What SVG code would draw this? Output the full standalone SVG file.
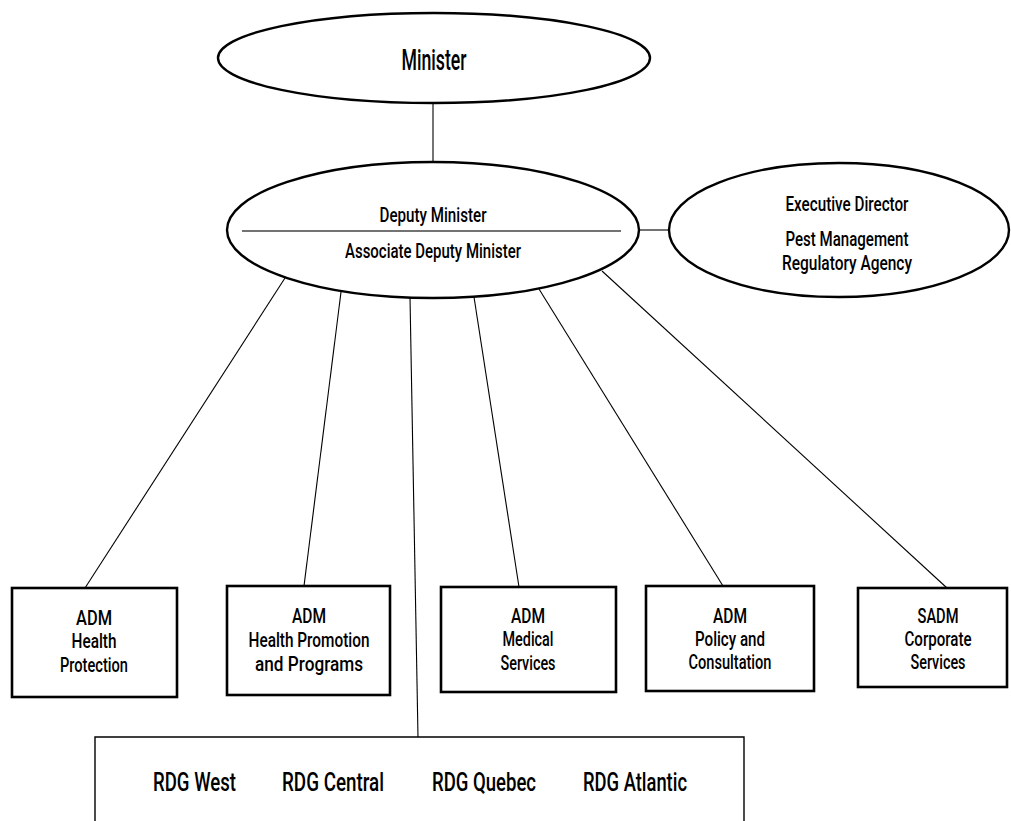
<svg xmlns="http://www.w3.org/2000/svg" width="1011" height="821" viewBox="0 0 1011 821">
<style>
.e{fill:#fff;stroke:#000;stroke-width:2.4}
.b{fill:#fff;stroke:#000;stroke-width:2.6}
.c{stroke:#000;stroke-width:1.1;fill:none}
text{font-family:Roboto,"DejaVu Sans Condensed","Liberation Sans",sans-serif;font-weight:500;fill:#000;text-anchor:middle}
.t{font-size:21px}
.s{font-size:20px}
.r{font-size:26px}
</style>
<rect width="1011" height="821" fill="#fff"/>
<g id="connectors">
<line class="c" x1="433" y1="103" x2="433" y2="162"/>
<line class="c" x1="640" y1="230" x2="668" y2="230"/>
<line class="c" x1="285" y1="278" x2="85" y2="588"/>
<line class="c" x1="341" y1="292" x2="304" y2="586"/>
<line class="c" x1="410" y1="297" x2="418" y2="737"/>
<line class="c" x1="474" y1="297" x2="519" y2="587"/>
<line class="c" x1="539" y1="289" x2="723" y2="586"/>
<line class="c" x1="602" y1="271" x2="947" y2="588"/>
</g>
<g id="minister">
<ellipse class="e" cx="434" cy="58" rx="216" ry="45"/>
<text x="434" y="70" font-size="29" textLength="65" lengthAdjust="spacingAndGlyphs">Minister</text>
</g>
<g id="deputy">
<ellipse class="e" cx="433" cy="230" rx="206" ry="68"/>
<line x1="242" y1="231" x2="621" y2="231" stroke="#444" stroke-width="1.5"/>
<text class="s" x="433" y="222" textLength="107" lengthAdjust="spacingAndGlyphs">Deputy Minister</text>
<text class="s" x="433" y="258" textLength="176" lengthAdjust="spacingAndGlyphs">Associate Deputy Minister</text>
</g>
<g id="pmra">
<ellipse class="e" cx="839" cy="230" rx="170" ry="67"/>
<text class="s" x="847" y="211" textLength="123" lengthAdjust="spacingAndGlyphs">Executive Director</text>
<text class="s" x="847" y="246" textLength="123" lengthAdjust="spacingAndGlyphs">Pest Management</text>
<text class="s" x="847" y="270" textLength="130" lengthAdjust="spacingAndGlyphs">Regulatory Agency</text>
</g>
<g id="adm-hp">
<rect class="b" x="12" y="588" width="165" height="109"/>
<text class="t" x="94" y="625" textLength="36" lengthAdjust="spacingAndGlyphs">ADM</text>
<text class="t" x="94" y="648" textLength="45" lengthAdjust="spacingAndGlyphs">Health</text>
<text class="t" x="94" y="672" textLength="68" lengthAdjust="spacingAndGlyphs">Protection</text>
</g>
<g id="adm-hpp">
<rect class="b" x="227" y="586" width="163" height="109"/>
<text class="t" x="309" y="623" textLength="34" lengthAdjust="spacingAndGlyphs">ADM</text>
<text class="t" x="309" y="647" textLength="121" lengthAdjust="spacingAndGlyphs">Health Promotion</text>
<text class="t" x="309" y="671" textLength="108" lengthAdjust="spacingAndGlyphs">and Programs</text>
</g>
<g id="adm-ms">
<rect class="b" x="441" y="587" width="175" height="105"/>
<text class="t" x="528" y="623" textLength="34" lengthAdjust="spacingAndGlyphs">ADM</text>
<text class="t" x="528" y="646" textLength="51" lengthAdjust="spacingAndGlyphs">Medical</text>
<text class="t" x="528" y="670" textLength="55" lengthAdjust="spacingAndGlyphs">Services</text>
</g>
<g id="adm-pc">
<rect class="b" x="646" y="586" width="168" height="105"/>
<text class="t" x="730" y="623" textLength="34" lengthAdjust="spacingAndGlyphs">ADM</text>
<text class="t" x="730" y="646" textLength="70" lengthAdjust="spacingAndGlyphs">Policy and</text>
<text class="t" x="730" y="669" textLength="83" lengthAdjust="spacingAndGlyphs">Consultation</text>
</g>
<g id="sadm-cs">
<rect class="b" x="858" y="588" width="149" height="99"/>
<text class="t" x="938" y="623" textLength="41" lengthAdjust="spacingAndGlyphs">SADM</text>
<text class="t" x="938" y="646" textLength="67" lengthAdjust="spacingAndGlyphs">Corporate</text>
<text class="t" x="938" y="669" textLength="55" lengthAdjust="spacingAndGlyphs">Services</text>
</g>
<g id="rdg">
<path d="M95,822 V737 H744 V822" fill="#fff" stroke="#000" stroke-width="1.4"/>
<text class="r" x="194.5" y="791" textLength="83" lengthAdjust="spacingAndGlyphs">RDG West</text>
<text class="r" x="333" y="791" textLength="102" lengthAdjust="spacingAndGlyphs">RDG Central</text>
<text class="r" x="484" y="791" textLength="104" lengthAdjust="spacingAndGlyphs">RDG Quebec</text>
<text class="r" x="635" y="791" textLength="104" lengthAdjust="spacingAndGlyphs">RDG Atlantic</text>
</g>
</svg>
